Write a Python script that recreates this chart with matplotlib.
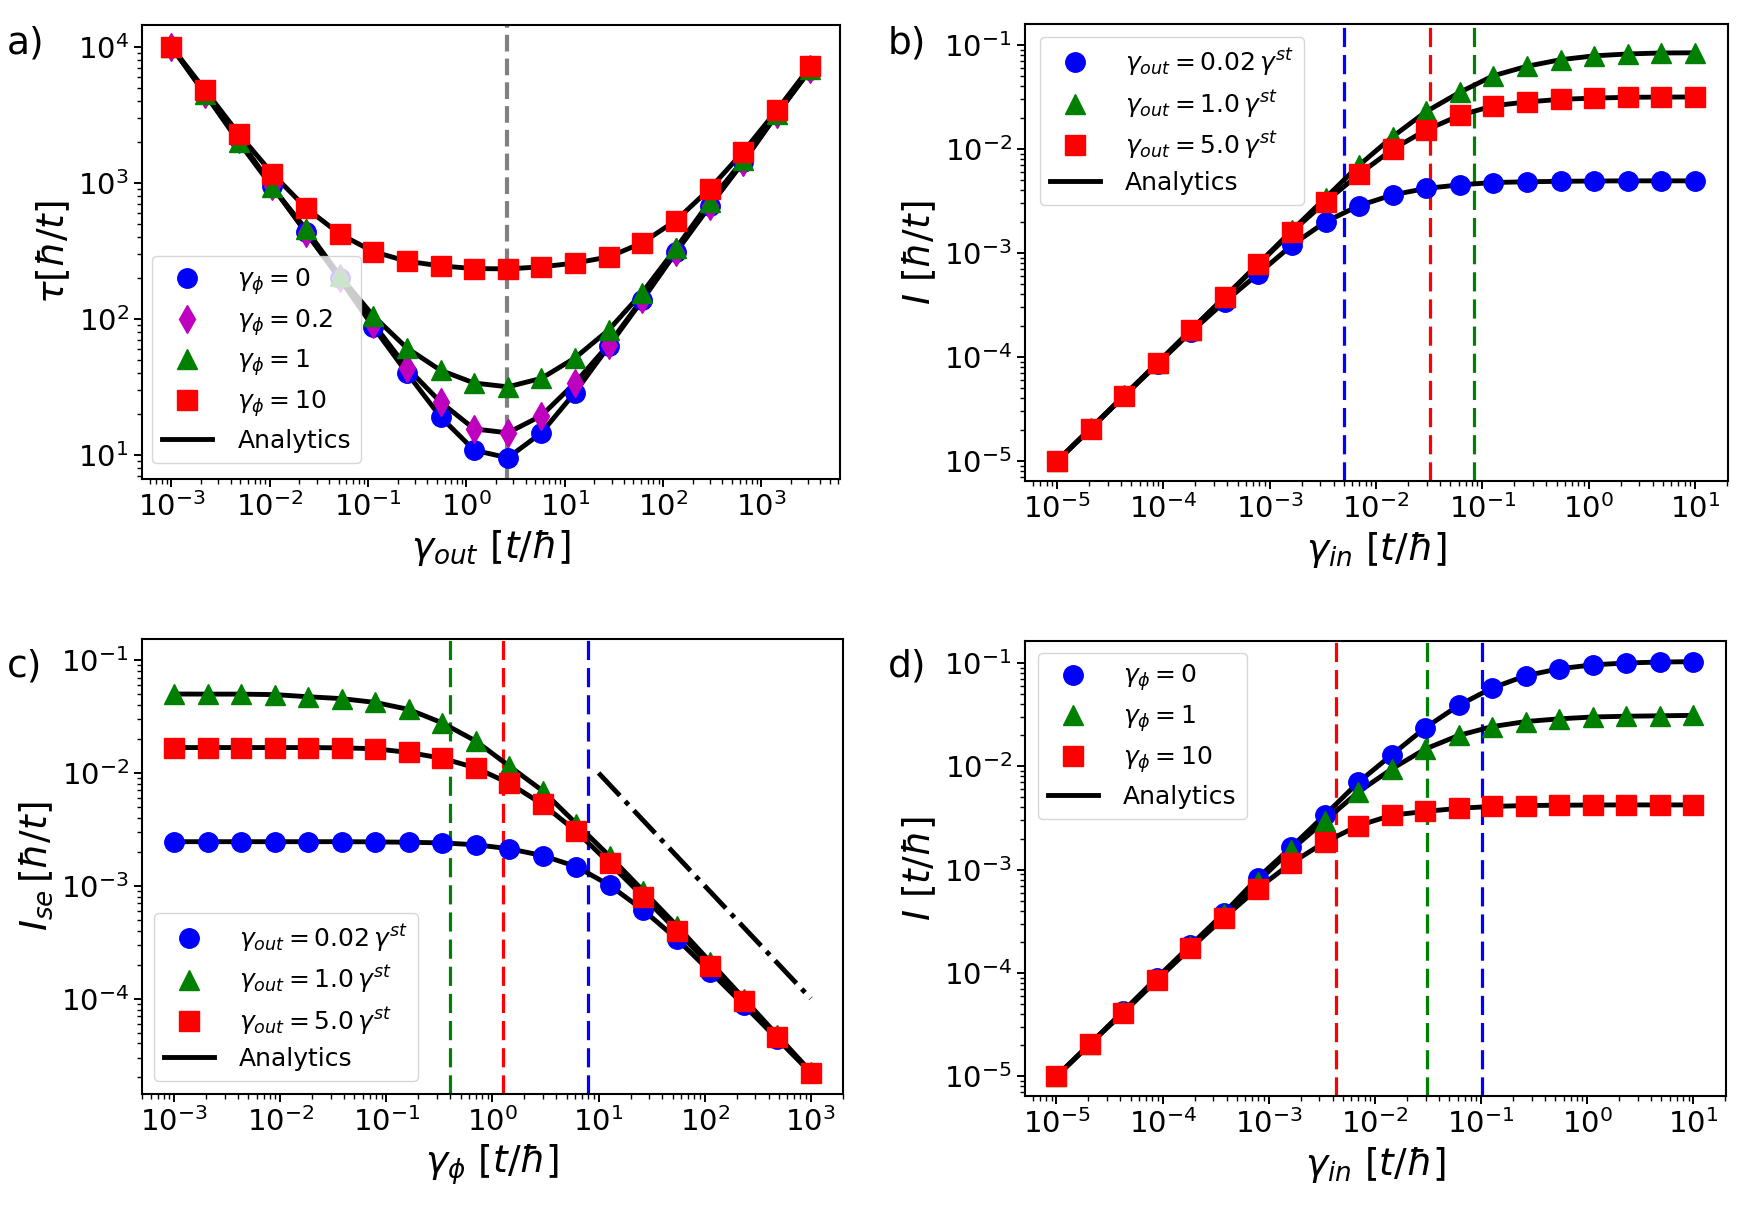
import numpy as np
import matplotlib
matplotlib.use("Agg")
import matplotlib.pyplot as plt

# ---- panel a: tau vs gamma_out ----
g_out = [1.0e-3, 2.20e-3, 4.83e-3, 1.06e-2, 2.34e-2, 5.13e-2, 0.113, 0.248, 0.546, 1.20,
         2.64, 5.80, 12.7, 28.0, 61.6, 135, 298, 654, 1440, 3160]
tau_phi0 = [1.0e4, 4.6e3, 2.1e3, 944, 433, 198, 87, 40, 19, 10.8,
            9.5, 14.5, 28.7, 62.7, 137, 308, 673, 1420, 3200, 6800]
tau_phi02 = [1.0e4, 4.5e3, 2.1e3, 940, 430, 200, 92, 43.8, 24.4, 15.5,
             14.5, 19.4, 33.7, 64.7, 140, 310, 680, 1430, 3200, 6900]
tau_phi1 = [1.0e4, 4.5e3, 2.0e3, 930, 455, 208, 105, 61, 41.8, 33.7,
            31.6, 36.5, 51.5, 82.8, 156, 329, 727, 1470, 3200, 6900]
tau_phi10 = [1.0e4, 4.8e3, 2.29e3, 1170, 652, 421, 312, 265, 245, 234,
             233, 241, 257, 285, 362, 528, 902, 1690, 3420, 7200]
g_opt = 2.6

# ---- panel b: I vs gamma_in, different gamma_out ----
g_in = [1e-5, 2.07e-5, 4.28e-5, 8.86e-5, 1.83e-4, 3.79e-4, 7.85e-4, 1.62e-3, 3.36e-3, 6.95e-3,
        1.44e-2, 2.98e-2, 6.16e-2, 0.127, 0.264, 0.546, 1.13, 2.34, 4.83, 10.0]
Ib_002 = [1e-5, 2.05e-5, 4.2e-5, 8.6e-5, 1.75e-4, 3.41e-4, 6.34e-4, 1.19e-3, 2.0e-3, 2.86e-3,
          3.63e-3, 4.19e-3, 4.53e-3, 4.77e-3, 4.85e-3, 4.9e-3, 4.93e-3, 4.95e-3, 4.95e-3, 4.95e-3]
Ib_10 = [1e-5, 2.07e-5, 4.28e-5, 8.85e-5, 1.83e-4, 3.8e-4, 7.9e-4, 1.65e-3, 3.4e-3, 7.0e-3,
         1.32e-2, 2.3e-2, 3.52e-2, 5.07e-2, 6.26e-2, 7.24e-2, 7.88e-2, 8.22e-2, 8.4e-2, 8.43e-2]
Ib_50 = [1e-5, 2.03e-5, 4.25e-5, 8.75e-5, 1.83e-4, 3.78e-4, 7.78e-4, 1.60e-3, 3.11e-3, 5.74e-3,
         9.98e-3, 1.53e-2, 2.11e-2, 2.61e-2, 2.84e-2, 3.01e-2, 3.09e-2, 3.15e-2, 3.16e-2, 3.17e-2]
vb = [5.0e-3, 3.2e-2, 8.4e-2]  # blue, red, green

# ---- panel c: I_se vs gamma_phi ----
g_phi = [1e-3, 2.07e-3, 4.28e-3, 8.86e-3, 1.83e-2, 3.79e-2, 7.85e-2, 0.162, 0.336, 0.695,
         1.44, 2.98, 6.16, 12.7, 26.4, 54.6, 113, 234, 483, 1000]
Ic_002 = [2.46e-3, 2.46e-3, 2.46e-3, 2.46e-3, 2.46e-3, 2.46e-3, 2.45e-3, 2.43e-3, 2.4e-3, 2.31e-3,
          2.13e-3, 1.85e-3, 1.48e-3, 1.01e-3, 6.08e-4, 3.38e-4, 1.73e-4, 8.75e-5, 4.39e-5, 2.2e-5]
Ic_10 = [5.01e-2, 5.0e-2, 5.0e-2, 4.95e-2, 4.74e-2, 4.56e-2, 4.22e-2, 3.66e-2, 2.78e-2, 1.92e-2,
         1.15e-2, 6.93e-3, 3.56e-3, 1.83e-3, 9.0e-4, 4.43e-4, 2.11e-4, 1.0e-4, 4.74e-5, 2.25e-5]
Ic_50 = [1.68e-2, 1.68e-2, 1.68e-2, 1.68e-2, 1.68e-2, 1.67e-2, 1.64e-2, 1.52e-2, 1.35e-2, 1.11e-2,
         8.1e-3, 5.26e-3, 3.04e-3, 1.58e-3, 8.0e-4, 4.01e-4, 1.95e-4, 9.46e-5, 4.56e-5, 2.2e-5]
slope_x = [10, 1000]
slope_y = [1e-2, 1e-4]
vc = [7.96, 1.26, 0.40]  # blue, red, green

# ---- panel d: I vs gamma_in, different gamma_phi ----
Id_0 = [1e-5, 2.05e-5, 4.3e-5, 9.0e-5, 1.85e-4, 3.8e-4, 8.28e-4, 1.64e-3, 3.36e-3, 6.97e-3,
        1.29e-2, 2.36e-2, 3.89e-2, 5.72e-2, 7.53e-2, 8.79e-2, 9.58e-2, 1.0e-1, 1.02e-1, 1.03e-1]
Id_1 = [1e-5, 2.06e-5, 4.25e-5, 8.8e-5, 1.81e-4, 3.72e-4, 7.6e-4, 1.55e-3, 2.95e-3, 5.62e-3,
        9.42e-3, 1.47e-2, 1.99e-2, 2.42e-2, 2.71e-2, 2.88e-2, 3.0e-2, 3.05e-2, 3.08e-2, 3.11e-2]
Id_10 = [1e-5, 2.06e-5, 4.13e-5, 8.57e-5, 1.73e-4, 3.44e-4, 6.56e-4, 1.15e-3, 1.84e-3, 2.66e-3,
         3.36e-3, 3.66e-3, 3.92e-3, 4.09e-3, 4.17e-3, 4.2e-3, 4.22e-3, 4.23e-3, 4.23e-3, 4.23e-3]
vd = [0.103, 4.27e-3, 3.1e-2]  # blue, red, green

MS = 14
LW = 3.5
TICK_FS = 21
LAB_FS = 27
LEG_FS = 18

fig = plt.figure(figsize=(17.51, 12.05), dpi=100)
ax_a = fig.add_axes([0.0811, 0.6025, 0.3986, 0.3768])
ax_b = fig.add_axes([0.5854, 0.6008, 0.4015, 0.3793])
ax_c = fig.add_axes([0.0811, 0.0921, 0.4003, 0.3776])
ax_d = fig.add_axes([0.5854, 0.0905, 0.4003, 0.3776])


def style(ax):
    ax.set_xscale('log')
    ax.set_yscale('log')
    ax.tick_params(which='major', labelsize=TICK_FS, length=6, width=1.4)
    ax.tick_params(which='minor', length=3.5, width=1.0)
    for s in ax.spines.values():
        s.set_linewidth(1.5)


def series(ax, x, y, fmt, label):
    ax.plot(x, y, 'k-', lw=LW, zorder=2)
    ax.plot(x, y, fmt, ms=MS, ls='none', label=label, zorder=3)


def vline(ax, x, c, lw=2.3):
    ax.axvline(x, color=c, ls=(0, (6, 2.5)), lw=lw, zorder=1)


def legend(ax, loc, anchor):
    ax.legend(loc=loc, bbox_to_anchor=anchor, borderaxespad=0, fontsize=LEG_FS,
              numpoints=1, labelspacing=0.4, handletextpad=1.0)


# a)
style(ax_a)
series(ax_a, g_out, tau_phi0, 'bo', r'$\gamma_\phi = 0$')
series(ax_a, g_out, tau_phi02, 'md', r'$\gamma_\phi = 0.2$')
series(ax_a, g_out, tau_phi1, 'g^', r'$\gamma_\phi = 1$')
series(ax_a, g_out, tau_phi10, 'rs', r'$\gamma_\phi = 10$')
ax_a.plot([], [], 'k-', lw=LW, label='Analytics')
ax_a.axvline(g_opt, color='gray', ls=(0, (4, 1.7)), lw=3, zorder=1)
ax_a.set_xlim(10**-3.3, 10**3.8)
ax_a.set_ylim(10**0.822, 10**4.161)
ax_a.set_xlabel(r'$\gamma_{out}\ [t/\hbar]$', fontsize=LAB_FS)
ax_a.set_ylabel(r'$\tau[\hbar/t]$', fontsize=LAB_FS)
legend(ax_a, 'lower left', (0.015, 0.035))

# b)
style(ax_b)
series(ax_b, g_in, Ib_002, 'bo', r'$\gamma_{out} = 0.02\,\gamma^{st}$')
series(ax_b, g_in, Ib_10, 'g^', r'$\gamma_{out} = 1.0\,\gamma^{st}$')
series(ax_b, g_in, Ib_50, 'rs', r'$\gamma_{out} = 5.0\,\gamma^{st}$')
ax_b.plot([], [], 'k-', lw=LW, label='Analytics')
for x, c in zip(vb, ['b', 'r', 'g']):
    vline(ax_b, x, c)
ax_b.set_xlim(10**-5.3, 10**1.312)
ax_b.set_ylim(10**-5.192, 10**-0.797)
ax_b.set_xlabel(r'$\gamma_{in}\ [t/\hbar]$', fontsize=LAB_FS)
ax_b.set_ylabel(r'$I\ [\hbar/t]$', fontsize=LAB_FS)
legend(ax_b, 'upper left', (0.021, 0.972))

# c)
style(ax_c)
series(ax_c, g_phi, Ic_002, 'bo', r'$\gamma_{out} = 0.02\,\gamma^{st}$')
series(ax_c, g_phi, Ic_10, 'g^', r'$\gamma_{out} = 1.0\,\gamma^{st}$')
series(ax_c, g_phi, Ic_50, 'rs', r'$\gamma_{out} = 5.0\,\gamma^{st}$')
ax_c.plot([], [], 'k-', lw=LW, label='Analytics')
ax_c.plot(slope_x, slope_y, 'k-.', lw=3.5)
for x, c in zip(vc, ['b', 'r', 'g']):
    vline(ax_c, x, c)
ax_c.set_xlim(10**-3.303, 10**3.303)
ax_c.set_ylim(10**-4.846, 10**-0.8125)
ax_c.set_xlabel(r'$\gamma_\phi\ [t/\hbar]$', fontsize=LAB_FS)
ax_c.set_ylabel(r'$I_{se}\,[\hbar/t]$', fontsize=LAB_FS)
legend(ax_c, 'lower left', (0.017, 0.029))

# d)
style(ax_d)
series(ax_d, g_in, Id_0, 'bo', r'$\gamma_\phi = 0$')
series(ax_d, g_in, Id_1, 'g^', r'$\gamma_\phi = 1$')
series(ax_d, g_in, Id_10, 'rs', r'$\gamma_\phi = 10$')
ax_d.plot([], [], 'k-', lw=LW, label='Analytics')
for x, c in zip(vd, ['b', 'r', 'g']):
    vline(ax_d, x, c)
ax_d.set_xlim(10**-5.296, 10**1.307)
ax_d.set_ylim(10**-5.19, 10**-0.787)
ax_d.set_xlabel(r'$\gamma_{in}\ [t/\hbar]$', fontsize=LAB_FS)
ax_d.set_ylabel(r'$I\ [t/\hbar]$', fontsize=LAB_FS)
legend(ax_d, 'upper left', (0.0185, 0.974))

fig.text(0.004, 0.979, 'a)', fontsize=27, va='top')
fig.text(0.507, 0.979, 'b)', fontsize=27, va='top')
fig.text(0.004, 0.462, 'c)', fontsize=27, va='top')
fig.text(0.507, 0.462, 'd)', fontsize=27, va='top')

fig.savefig('out.png', dpi=100)
